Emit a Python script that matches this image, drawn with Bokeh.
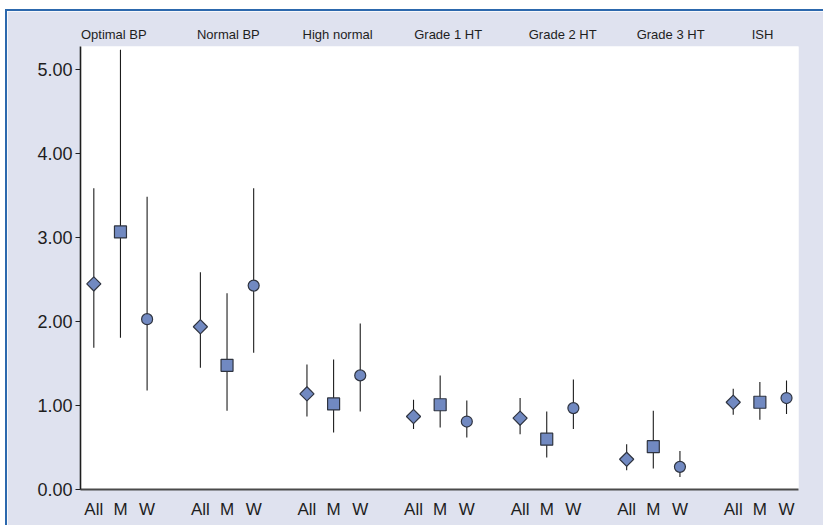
import math
from bokeh.plotting import figure
from bokeh.models import Range1d, LinearAxis, FixedTicker, NumeralTickFormatter, ColumnDataSource
from bokeh.embed import file_html
from bokeh.resources import INLINE

# ---- data ----
categories = ["Optimal BP", "Normal BP", "High normal", "Grade 1 HT", "Grade 2 HT", "Grade 3 HT", "ISH"]
subgroups = ["All", "M", "W"]

est_all = [2.45, 1.94, 1.14, 0.87, 0.85, 0.36, 1.04]
lo_all = [1.69, 1.45, 0.87, 0.72, 0.66, 0.23, 0.89]
hi_all = [3.59, 2.59, 1.49, 1.07, 1.09, 0.54, 1.20]

est_m = [3.07, 1.48, 1.02, 1.01, 0.60, 0.51, 1.04]
lo_m = [1.81, 0.94, 0.68, 0.74, 0.38, 0.25, 0.83]
hi_m = [5.24, 2.34, 1.55, 1.36, 0.93, 0.94, 1.28]

est_w = [2.03, 2.43, 1.36, 0.81, 0.97, 0.27, 1.09]
lo_w = [1.18, 1.63, 0.93, 0.62, 0.72, 0.15, 0.90]
hi_w = [3.49, 3.59, 1.98, 1.06, 1.31, 0.46, 1.30]

y_ticks = [0, 1, 2, 3, 4, 5]

# ---- layout constants ----
GROUP_STEP = 4
FONT = "Liberation Sans"
BG = "#dfe2ef"
FILL = "#7189c1"
EDGE = "#2f3440"

p = figure(width=818, height=516, output_backend="svg", toolbar_location=None,
           x_range=Range1d(-0.5, 26.45), y_range=Range1d(0, 5.28),
           x_axis_location=None, y_axis_location=None,
           min_border_left=73, min_border_right=27, min_border_top=35, min_border_bottom=38)
p.border_fill_color = BG
p.background_fill_color = "white"
p.outline_line_color = None
p.xgrid.visible = False
p.ygrid.visible = False
p.styles = {"border-top": "2px solid #2c68ad", "border-left": "2px solid #2c68ad",
            "margin-top": "9px", "margin-left": "5px"}

series = [(est_all, lo_all, hi_all, "square", 45), (est_m, lo_m, hi_m, "square", 0), (est_w, lo_w, hi_w, "circle", 0)]
sizes = {0: 10, 1: 12, 2: 11}
for j, (est, lo, hi, marker, ang) in enumerate(series):
    xs = [g * GROUP_STEP + j for g in range(len(categories))]
    src = ColumnDataSource(dict(x=xs, y=est, lo=lo, hi=hi))
    p.segment(x0="x", y0="lo", x1="x", y1="hi", source=src, line_color="#1c1c1c", line_width=1.1)
    p.scatter(x="x", y="y", source=src, marker=marker, size=sizes[j], angle=math.radians(ang),
              fill_color=FILL, line_color=EDGE, line_width=1.2)

# left axis
yax = LinearAxis(ticker=FixedTicker(ticks=y_ticks), formatter=NumeralTickFormatter(format="0.00"))
yax.axis_line_color = "#1e1e1e"
yax.axis_line_width = 1.6
yax.major_tick_line_color = "#1e1e1e"
yax.major_tick_in = 0
yax.major_tick_out = 5
yax.minor_tick_line_color = None
yax.major_label_standoff = 3
yax.major_label_text_font = FONT
yax.major_label_text_font_size = "18px"
yax.major_label_text_color = "#1e1e1e"
p.add_layout(yax, "left")

# bottom axis: All / M / W
bx_ticks = [g * GROUP_STEP + j for g in range(len(categories)) for j in range(len(subgroups))]
bx_labels = {t: subgroups[i % len(subgroups)] for i, t in enumerate(bx_ticks)}
xax = LinearAxis(ticker=FixedTicker(ticks=bx_ticks), major_label_overrides=bx_labels)
xax.axis_line_color = "#4a4a4a"
xax.axis_line_width = 2.2
xax.major_tick_line_color = None
xax.major_tick_in = 0
xax.major_tick_out = 0
xax.minor_tick_line_color = None
xax.major_label_standoff = 10
xax.major_label_text_font = FONT
xax.major_label_text_font_size = "17px"
xax.major_label_text_color = "#1e1e1e"
p.add_layout(xax, "below")

# top axis: category names
top_pos = [0.75, 5.05, 9.15, 13.3, 17.6, 21.65, 25.1]
tax = LinearAxis(ticker=FixedTicker(ticks=top_pos),
                 major_label_overrides={t: c for t, c in zip(top_pos, categories)})
tax.axis_line_color = None
tax.major_tick_line_color = None
tax.major_tick_in = 0
tax.major_tick_out = 0
tax.minor_tick_line_color = None
tax.major_label_standoff = 5
tax.major_label_text_font = FONT
tax.major_label_text_font_size = "13px"
tax.major_label_text_color = "#1e1e1e"
p.add_layout(tax, "above")

open("out.html", "w").write(file_html(p, INLINE))
